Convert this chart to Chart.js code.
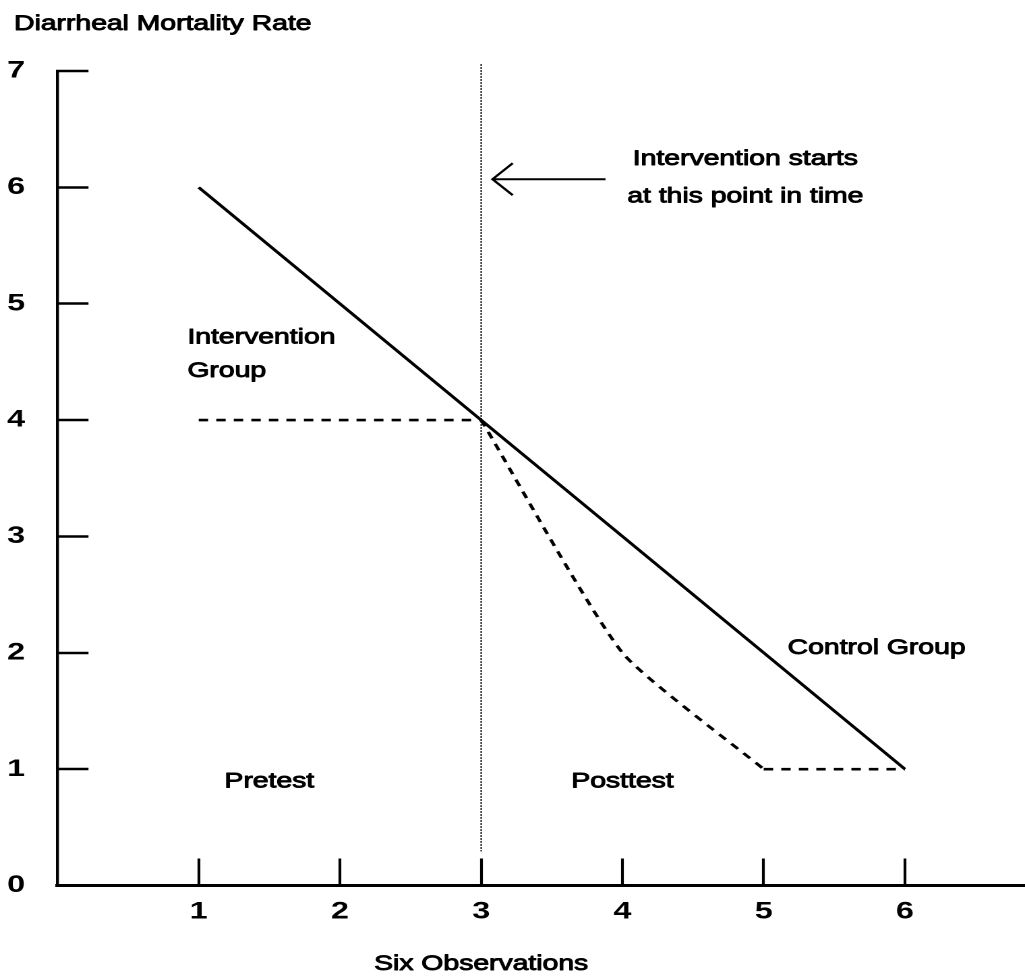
<!DOCTYPE html>
<html><head><meta charset="utf-8">
<script src="https://cdn.jsdelivr.net/npm/chart.js@4"></script>
<style>html,body{margin:0;padding:0;background:#fff;overflow:hidden}canvas{display:block}</style>
</head><body>
<canvas id="chart" width="760" height="979" style="width:1025px;height:979px"></canvas>
<script>
// ---- data ----
const observations = [1, 2, 3, 4, 5, 6];
const controlGroup = [6, 5, 4, 3, 2, 1];
const interventionGroup = [4, 4, 4, 2, 1, 1];
const xTickLabels = ['1', '2', '3', '4', '5', '6'];
const yTickLabels = ['0', '1', '2', '3', '4', '5', '6', '7'];
const interventionStart = 3;
const plateauStart = 5;
const chartTitle = 'Diarrheal Mortality Rate';
const xAxisTitle = 'Six Observations';

// ---- annotation layout (in data units) ----
const notes = [
  { text: 'Intervention starts', x: 4.87, y: 6.24, align: 'center' },
  { text: 'at this point in time', x: 4.87, y: 5.92, align: 'center' },
  { text: 'Intervention', x: 0.92, y: 4.71, align: 'left' },
  { text: 'Group', x: 0.92, y: 4.42, align: 'left' },
  { text: 'Control Group', x: 5.17, y: 2.04, align: 'left' },
  { text: 'Pretest', x: 1.5, y: 0.89, align: 'center' },
  { text: 'Posttest', x: 4.0, y: 0.89, align: 'center' }
];
const arrowNote = { from: 3.88, to: 3.08, y: 6.07 };

const FONT = '"Liberation Sans", Arial, Helvetica, sans-serif';
const pts = (xs, ys) => xs.map((x, i) => ({ x: x, y: ys[i] }));
const allInterv = pts(observations, interventionGroup);
const preInterv = allInterv.filter(p => p.x <= interventionStart);
const declineInterv = allInterv.filter(p => p.x >= interventionStart && p.x <= plateauStart);
const plateauInterv = allInterv.filter(p => p.x >= plateauStart);

function drawText(ctx, text, x, y, align, size) {
  ctx.save();
  ctx.font = size + 'px ' + FONT;
  ctx.textAlign = align;
  ctx.textBaseline = 'middle';
  ctx.fillStyle = '#000';
  ctx.strokeStyle = '#000';
  ctx.lineWidth = 0.9;
  ctx.lineJoin = 'round';
  ctx.fillText(text, x, y);
  ctx.strokeText(text, x, y);
  ctx.restore();
}

const decor = {
  id: 'decor',
  beforeDatasetsDraw(chart) {
    const { ctx, chartArea, scales: { x } } = chart;
    const px = x.getPixelForValue(interventionStart);
    ctx.save();
    ctx.strokeStyle = '#333';
    ctx.lineWidth = 1.2;
    ctx.setLineDash([2, 1]);
    ctx.beginPath();
    ctx.moveTo(px, chartArea.top - 7);
    ctx.lineTo(px, chartArea.bottom - 34);
    ctx.stroke();
    ctx.restore();
  },
  afterDraw(chart) {
    const { ctx, scales: { x, y } } = chart;
    drawText(ctx, chartTitle, 10.4, 24, 'left', 21);
    drawText(ctx, xAxisTitle, x.getPixelForValue(interventionStart), 964, 'center', 21);
    notes.forEach(n => drawText(ctx, n.text, x.getPixelForValue(n.x), y.getPixelForValue(n.y), n.align, 21));
    const x1 = x.getPixelForValue(arrowNote.from), x2 = x.getPixelForValue(arrowNote.to), ay = y.getPixelForValue(arrowNote.y);
    ctx.save();
    ctx.strokeStyle = '#000';
    ctx.lineWidth = 2;
    ctx.beginPath();
    ctx.moveTo(x1, ay); ctx.lineTo(x2, ay);
    ctx.moveTo(x2 + 15, ay - 16); ctx.lineTo(x2, ay); ctx.lineTo(x2 + 15, ay + 16);
    ctx.stroke();
    ctx.restore();
  }
};

const tickVis = c => (c.tick && c.tick.value > 0) ? '#000' : 'rgba(0,0,0,0)';
const dashed = { borderColor: '#000', borderWidth: 2.6, borderDash: [7, 6], pointRadius: 0 };

new Chart(document.getElementById('chart'), {
  type: 'line',
  data: {
    datasets: [
      { label: 'Control Group', data: pts(observations, controlGroup), borderColor: '#000', borderWidth: 2.6, pointRadius: 0, tension: 0 },
      Object.assign({ label: 'Intervention Group (pretest)', data: preInterv, tension: 0 }, dashed),
      Object.assign({ label: 'Intervention Group (posttest)', data: declineInterv, tension: 0.18 }, dashed),
      Object.assign({ label: 'Intervention Group (posttest, plateau)', data: plateauInterv, tension: 0 }, dashed)
    ]
  },
  options: {
    responsive: false,
    devicePixelRatio: 2,
    animation: false,
    layout: { padding: { top: 71, left: 0, right: 0, bottom: 0 } },
    plugins: { legend: { display: false }, tooltip: { enabled: false }, title: { display: false } },
    scales: {
      x: {
        type: 'linear', min: 0, max: 6.85,
        afterFit: s => { s.height = 93.5; },
        border: { display: true, color: '#000', width: 3 },
        grid: { drawOnChartArea: false, drawTicks: true, tickLength: -27, tickWidth: 2.1, tickColor: tickVis },
        ticks: {
          stepSize: 1, includeBounds: false, autoSkip: false, maxRotation: 0, padding: 39, color: '#000',
          font: { family: FONT, size: 24, weight: 'bold' },
          callback: v => { const i = observations.indexOf(v); return i >= 0 ? xTickLabels[i] : ''; }
        }
      },
      y: {
        type: 'linear', min: 0, max: 7,
        afterFit: s => { s.width = 42.6; },
        border: { display: true, color: '#000', width: 2.2 },
        grid: { drawOnChartArea: false, drawTicks: true, tickLength: -23, tickWidth: 2.6, tickColor: tickVis },
        ticks: {
          stepSize: 1, includeBounds: false, autoSkip: false, padding: 47, color: '#000',
          font: { family: FONT, size: 24, weight: 'bold' },
          callback: v => (Number.isInteger(v) && yTickLabels[v] !== undefined) ? yTickLabels[v] : ''
        }
      }
    }
  },
  plugins: [decor]
});
</script>
</body></html>
